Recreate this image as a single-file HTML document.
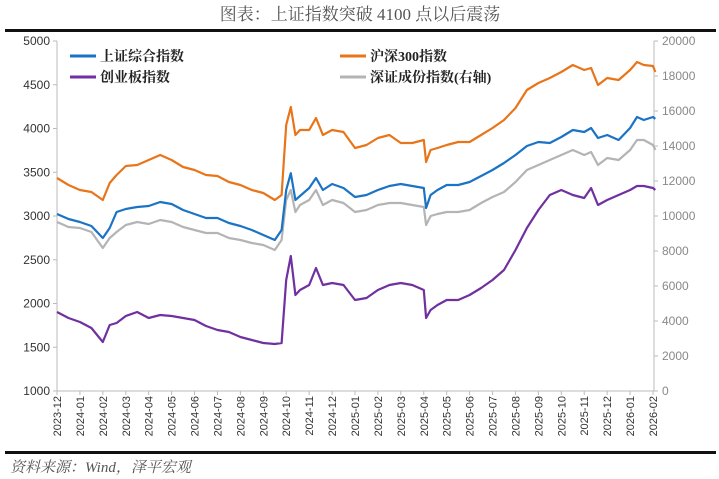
<!DOCTYPE html>
<html><head><meta charset="utf-8"><style>
body{margin:0;background:#fff;}
svg{display:block;font-family:"Liberation Sans","Noto Sans CJK SC",sans-serif;}
</style></head><body>
<svg id="chart" width="719" height="479" viewBox="0 0 719 479">
<text x="360" y="20" text-anchor="middle" font-size="17" fill="#555" font-family="'Liberation Serif','Noto Serif CJK SC',serif">图表：上证指数突破 4100 点以后震荡</text>
<rect x="5" y="29" width="711" height="3" fill="#111"/>
<rect x="5" y="451" width="711" height="3" fill="#111"/>
<text x="10" y="472" font-size="15" fill="#555" font-style="italic" font-family="'Liberation Serif','Noto Serif CJK SC',serif">资料来源：Wind，泽平宏观</text>
<g id="axes"></g>
<g id="series"></g>
<g id="legend" font-family="'Liberation Serif','Noto Serif CJK SC',serif" font-weight="bold" font-size="14" fill="#222">
 <g><line x1="70" y1="56" x2="96" y2="56" stroke="#1a73c4" stroke-width="3"/><text x="100" y="61">上证综合指数</text></g>
 <g><line x1="340" y1="56" x2="366" y2="56" stroke="#e8751a" stroke-width="3"/><text x="370" y="61">沪深300指数</text></g>
 <g><line x1="70" y1="77" x2="96" y2="77" stroke="#7030a0" stroke-width="3"/><text x="100" y="82">创业板指数</text></g>
 <g><line x1="340" y1="77" x2="366" y2="77" stroke="#b4b4b4" stroke-width="3"/><text x="370" y="82">深证成份指数(右轴)</text></g>
</g>
</svg>
<script>
const monthLabels=["2023-12","2024-01","2024-02","2024-03","2024-04","2024-05","2024-06","2024-07","2024-08","2024-09","2024-10","2024-11","2024-12","2025-01","2025-02","2025-03","2025-04","2025-05","2025-06","2025-07","2025-08","2025-09","2025-10","2025-11","2025-12","2026-01","2026-02"];
const leftTicks=[1000,1500,2000,2500,3000,3500,4000,4500,5000];
const rightTicks=[0,2000,4000,6000,8000,10000,12000,14000,16000,18000,20000];
const t=[0,0.5,1,1.5,2,2.3,2.6,3,3.5,4,4.5,5,5.5,6,6.5,7,7.5,8,8.5,9,9.5,9.8,10,10.2,10.4,10.6,11,11.3,11.6,12,12.5,13,13.5,14,14.5,15,15.5,16,16.1,16.3,16.6,17,17.5,18,18.5,19,19.5,20,20.5,21,21.5,22,22.5,23,23.3,23.6,24,24.5,25,25.3,25.6,26,26.1];
const shanghai=[3023,2966,2931,2886,2749,2863,3046,3080,3103,3114,3160,3137,3069,3023,2977,2977,2920,2886,2840,2783,2726,2840,3297,3489,3183,3228,3320,3434,3297,3366,3320,3217,3240,3297,3343,3366,3343,3320,3091,3240,3297,3354,3354,3389,3457,3526,3606,3697,3800,3846,3834,3903,3983,3960,4006,3891,3926,3869,4006,4131,4097,4131,4110];
const hs300=[3434,3354,3297,3274,3183,3377,3469,3571,3583,3640,3697,3640,3560,3526,3469,3457,3389,3354,3297,3263,3183,3240,4040,4246,3926,3983,3983,4120,3926,3983,3960,3777,3811,3891,3926,3834,3834,3869,3617,3754,3777,3811,3846,3846,3926,4006,4097,4234,4440,4520,4577,4646,4726,4669,4691,4497,4577,4554,4669,4760,4726,4714,4646];
const chinext=[1903,1834,1789,1720,1560,1754,1777,1857,1903,1834,1869,1857,1834,1811,1743,1697,1674,1617,1583,1549,1537,1549,2269,2543,2097,2154,2211,2406,2211,2234,2211,2040,2063,2154,2211,2234,2211,2154,1834,1926,1983,2040,2040,2097,2177,2269,2383,2611,2863,3069,3240,3297,3240,3206,3320,3126,3183,3240,3297,3343,3343,3320,3297];
const szcomp=[9657,9371,9314,9086,8172,8743,9086,9486,9657,9543,9771,9657,9371,9200,9029,9029,8743,8629,8457,8343,8057,8629,10914,11486,10229,10629,10914,11486,10629,10914,10743,10229,10343,10629,10743,10743,10629,10514,9486,10000,10114,10229,10229,10343,10743,11086,11371,11943,12629,12914,13200,13486,13771,13486,13657,12914,13314,13200,13771,14343,14343,14057,13771];

const NS="http://www.w3.org/2000/svg";
const X0=57,X1=653,Y0=391,Y1=41;
const xs=m=>X0+(X1-X0)*m/26;
const yl=v=>Y0-(v-1000)/4000*(Y0-Y1);
const yr=v=>Y0-v/20000*(Y0-Y1);
function mk(tag,attrs,parent){const e=document.createElementNS(NS,tag);for(const k in attrs)e.setAttribute(k,attrs[k]);parent.appendChild(e);return e;}
const ax=document.getElementById('axes');
let l=mk('line',{x1:X0,y1:Y1,x2:X0,y2:Y0,stroke:'#bbb'},ax);


l=mk('line',{x1:X1+1,y1:Y1,x2:X1+1,y2:Y0,stroke:'#bbb'},ax);


l=mk('line',{x1:X0,y1:Y0,x2:X1+1,y2:Y0,stroke:'#bbb'},ax);


leftTicks.forEach(v=>{const y=yl(v);mk('line',{x1:X0-4,y1:y,x2:X0,y2:y,stroke:'#bbb'},ax);
 const tx=mk('text',{x:X0-7,y:y+4,'text-anchor':'end','font-size':12,fill:'#333'},ax);tx.textContent=v;
 
 });
rightTicks.forEach(v=>{const y=yr(v);mk('line',{x1:X1+1,y1:y,x2:X1+5,y2:y,stroke:'#bbb'},ax);
 const tx=mk('text',{x:X1+9,y:y+4,'font-size':12,fill:'#888'},ax);tx.textContent=v;
 
 });
monthLabels.forEach((s,i)=>{const x=xs(i);mk('line',{x1:x,y1:Y0,x2:x,y2:Y0+4,stroke:'#bbb'},ax);
 const tx=mk('text',{x:0,y:0,'text-anchor':'end','font-size':11,fill:'#333',transform:`translate(${x+4},${Y0+5}) rotate(-90)`},ax);tx.textContent=s;
 
 });
const sg=document.getElementById('series');
function line(vals,yf,color,name){const d=vals.map((v,i)=>(i?'L':'M')+xs(t[i]).toFixed(1)+','+yf(v).toFixed(1)).join('');
 const p=mk('path',{d,fill:'none',stroke:color,'stroke-width':2.2,'stroke-linejoin':'round'},sg);
 
 }
line(szcomp,yr,'#b4b4b4','szcomp-line');
line(chinext,yl,'#7030a0','chinext-line');
line(shanghai,yl,'#1a73c4','shanghai-line');
line(hs300,yl,'#e8751a','hs300-line');
</script>
</body></html>
